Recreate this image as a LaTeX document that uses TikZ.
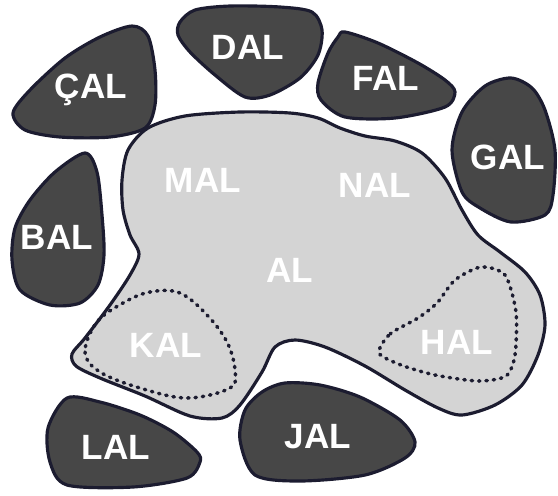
\documentclass[tikz,border=0pt]{standalone}
\usepackage{fontspec}
\setmainfont{Liberation Sans}
\usepackage{xcolor}
\usepackage{tikz}

\definecolor{rimcolor}{HTML}{1C1C30}
\definecolor{darkgrain}{HTML}{474747}
\definecolor{lightgrain}{HTML}{D4D4D4}

\begin{document}
\begin{tikzpicture}[
    x=0.02cm,
    y=-0.02cm,
    lobe/.style={
        draw=rimcolor,
        line width=1.8pt,
        fill=darkgrain
    },
    mainlobe/.style={
        draw=rimcolor,
        line width=1.8pt,
        fill=lightgrain
    },
    zone/.style={
        draw=rimcolor,
        line width=2pt,
        dash pattern=on 0.8pt off 3.4pt,
        line cap=round
    },
    lobename/.style={
        text=white,
        font=\bfseries\fontsize{20}{24}\selectfont
    }
]

\useasboundingbox (0,0) rectangle (558,495);

% central lobe with its two dotted zones
\draw[mainlobe] plot[smooth cycle, tension=0.5] coordinates {
    (122,180) (128,150) (148,128) (185,116) (240,112) (290,113)
    (318,118) (340,128) (365,136) (395,141) (422,153) (445,178)
    (462,210) (478,235) (500,252) (525,272) (540,295) (545,325)
    (538,355) (522,385) (495,405) (462,415) (438,408) (405,390)
    (365,366) (325,347) (295,340) (275,347) (262,372) (240,405)
    (222,418) (190,416) (145,396) (100,378) (76,366) (72,354)
    (85,338) (110,305) (130,275) (139,254) (130,235) (123,210)};

\draw[zone] plot[smooth cycle, tension=0.6] coordinates {
    (97,322) (85,352) (100,372) (140,388) (187,398) (230,388)
    (235,370) (227,342) (207,315) (180,293) (150,292) (123,303)};

\draw[zone] plot[smooth cycle, tension=0.45] coordinates {
    (379,353) (390,334) (418,318) (437,303) (455,280) (481,267)
    (505,275) (516,312) (515,355) (506,376) (478,381) (435,375)
    (401,365)};

% outer lobes
\draw[lobe] plot[smooth cycle] coordinates {
    (13,113) (30,90) (65,58) (100,37) (132,26) (148,36) (155,70)
    (155,105) (145,128) (110,137) (60,137) (25,130)};

\draw[lobe] plot[smooth cycle] coordinates {
    (180,22) (195,10) (230,6) (280,7) (312,12) (322,30) (318,55)
    (300,78) (270,95) (245,97) (215,75) (190,52) (178,35)};

\draw[lobe] plot[smooth cycle] coordinates {
    (338,37) (345,32) (378,43) (418,63) (445,80) (455,92) (445,107)
    (395,118) (345,117) (321,100) (318,83) (328,53)};

\draw[lobe] plot[smooth cycle] coordinates {
    (511,78) (532,88) (545,110) (555,150) (553,195) (545,215)
    (511,222) (480,208) (462,192) (452,150) (462,112) (485,86)};

\draw[lobe] plot[smooth cycle] coordinates {
    (85,153) (97,172) (102,215) (104,255) (98,285) (80,303)
    (50,305) (20,290) (12,260) (15,228) (30,200) (55,172)};

\draw[lobe] plot[smooth cycle] coordinates {
    (67,398) (100,402) (140,415) (173,432) (197,452) (200,462)
    (187,478) (133,487) (67,485) (50,462) (48,428)};

\draw[lobe] plot[smooth cycle] coordinates {
    (240,440) (245,410) (262,392) (285,383) (320,385) (360,397)
    (400,420) (415,442) (405,458) (365,475) (300,481) (255,475)};

% names
\node[lobename] (cal) at (91,90) {ÇAL};
\node[lobename] (dal) at (248,47) {DAL};
\node[lobename] (fal) at (386,78) {FAL};
\node[lobename] (gal) at (508,157) {GAL};
\node[lobename] (bal) at (57,237) {BAL};
\node[lobename] (mal) at (203,180) {MAL};
\node[lobename] (nal) at (375,185) {NAL};
\node[lobename] (al) at (290,270) {AL};
\node[lobename] (kal) at (166,345) {KAL};
\node[lobename] (hal) at (457,342) {HAL};
\node[lobename] (lal) at (116,447) {LAL};
\node[lobename] (jal) at (318,437) {JAL};

\end{tikzpicture}
\end{document}
